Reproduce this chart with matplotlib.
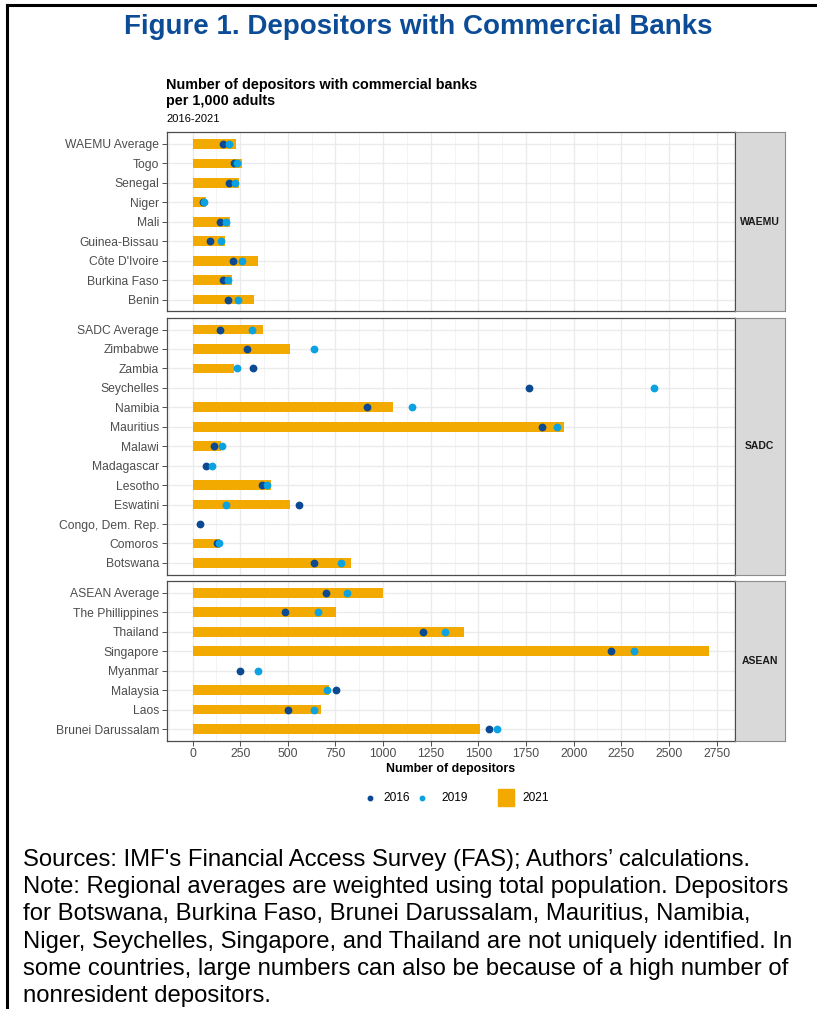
import numpy as np
import matplotlib
matplotlib.use('Agg')
from matplotlib import pyplot as plt
from matplotlib.patches import Rectangle
from matplotlib.lines import Line2D
from matplotlib.ticker import MultipleLocator

plt.rcParams['font.family'] = ['Liberation Sans', 'DejaVu Sans']

nan = np.nan

# depositors per 1,000 adults, rows listed top to bottom
waemu = ['WAEMU Average', 'Togo', 'Senegal', 'Niger', 'Mali', 'Guinea-Bissau',
         "Côte D'Ivoire", 'Burkina Faso', 'Benin']
waemu_2016 = [159, 215, 189, 55, 142, 94, 210, 159, 184]
waemu_2019 = [189, 233, 222, 58, 175, 147, 261, 184, 238]
waemu_2021 = [227, 261, 245, 73, 196, 170, 346, 206, 325]

sadc = ['SADC Average', 'Zimbabwe', 'Zambia', 'Seychelles', 'Namibia', 'Mauritius',
        'Malawi', 'Madagascar', 'Lesotho', 'Eswatini', 'Congo, Dem. Rep.', 'Comoros',
        'Botswana']
sadc_2016 = [145, 287, 318, 1764, 914, 1835, 115, 72, 364, 558, 37, 128, 637]
sadc_2019 = [313, 640, 234, 2423, 1154, 1912, 156, 100, 393, 175, nan, 138, 778]
sadc_2021 = [369, 509, 220, nan, 1052, 1947, 150, nan, 414, 509, nan, 145, 829]

asean = ['ASEAN Average', 'The Phillippines', 'Thailand', 'Singapore', 'Myanmar',
         'Malaysia', 'Laos', 'Brunei Darussalam']
asean_2016 = [698, 484, 1211, 2197, 250, 754, 502, 1556]
asean_2019 = [808, 658, 1327, 2315, 341, 706, 638, 1598]
asean_2021 = [998, 755, 1423, 2711, nan, 715, 673, 1509]

regions = [
    ('WAEMU', waemu, waemu_2016, waemu_2019, waemu_2021),
    ('SADC', sadc, sadc_2016, sadc_2019, sadc_2021),
    ('ASEAN', asean, asean_2016, asean_2019, asean_2021),
]

C16 = '#0B4A92'
C19 = '#0AA2E0'
C21 = '#F2A900'
GRID = '#EBEBEB'
FRAME = '#4D4D4D'
TICK = '#4D4D4D'

W, H = 817, 1009
fig = plt.figure(figsize=(W / 100, H / 100), dpi=100)


def box(x0, y0, x1, y1):
    return [x0 / W, 1 - y1 / H, (x1 - x0) / W, (y1 - y0) / H]


# outer frame (top and left edges)
fig.add_artist(Line2D([7 / W, 1], [1 - 5 / H, 1 - 5 / H], color='black', lw=2.2))
fig.add_artist(Line2D([7 / W, 7 / W], [0, 1 - 5 / H], color='black', lw=2.2))

fig.text(418 / W, 1 - 27 / H, 'Figure 1. Depositors with Commercial Banks',
         ha='center', va='center', fontsize=20, fontweight='bold', color='#0C4C97')

fig.text(166 / W, 1 - 85 / H, 'Number of depositors with commercial banks',
         ha='left', va='center', fontsize=10.4, fontweight='bold')
fig.text(166 / W, 1 - 101 / H, 'per 1,000 adults',
         ha='left', va='center', fontsize=10.4, fontweight='bold')
fig.text(166 / W, 1 - 119 / H, '2016-2021', ha='left', va='center', fontsize=8)

all_vals = np.concatenate([np.array(r[k], dtype=float) for r in regions for k in (2, 3, 4)])
hi = np.nanmax(all_vals)
pad = 0.05 * hi
xlim = (-pad, hi + pad)

left, right, strip_r = 166.7, 735.0, 784.5
unit = 19.45
gap = 6.6
top = 132.3

for i, (name, cats, v16, v19, v21) in enumerate(regions):
    n = len(cats)
    h = (n + 0.2) * unit
    ax = fig.add_axes(box(left, top, right, top + h))
    sx = fig.add_axes(box(right, top, strip_r, top + h))

    ypos = np.arange(n, 0, -1)
    v21 = np.array(v21, dtype=float)
    has = ~np.isnan(v21)
    ax.barh(ypos[has], v21[has], height=0.5, color=C21, zorder=2)
    ax.plot(v16, ypos, 'o', ms=4.6, color=C16, ls='none', zorder=3)
    ax.plot(v19, ypos, 'o', ms=4.6, color=C19, ls='none', zorder=4)

    ax.set_xlim(*xlim)
    ax.set_ylim(0.4, n + 0.6)
    ax.set_yticks(ypos)
    ax.set_yticklabels(cats)
    ax.xaxis.set_major_locator(MultipleLocator(250))
    ax.xaxis.set_minor_locator(MultipleLocator(125))
    ax.grid(which='major', color=GRID, lw=1.0)
    ax.grid(which='minor', axis='x', color='#F3F3F3', lw=0.6)
    ax.set_axisbelow(True)
    ax.tick_params(which='minor', length=0)
    ax.tick_params(axis='both', which='major', length=3.5, width=0.6, color='#333333',
                   labelcolor=TICK, labelsize=8.7, pad=2)
    for sp in ax.spines.values():
        sp.set_color(FRAME)
        sp.set_linewidth(0.9)
    if i < len(regions) - 1:
        ax.tick_params(axis='x', length=0, labelbottom=False)
    else:
        ax.set_xlabel('Number of depositors', fontsize=8.9, fontweight='bold', labelpad=2)

    sx.set_facecolor('#D9D9D9')
    sx.set_xticks([])
    sx.set_yticks([])
    for sp in sx.spines.values():
        sp.set_color('#8C8C8C')
        sp.set_linewidth(0.8)
    sx.spines['left'].set_color(FRAME)
    sx.text(0.5, 0.5, name, transform=sx.transAxes, ha='center', va='center',
            fontsize=7.5, fontweight='bold', color='#1A1A1A')

    top += h + gap

# legend keys
ly = 1 - 798 / H
fig.add_artist(Line2D([370 / W], [ly], marker='o', ms=3.2, color=C16, ls='none'))
fig.text(383 / W, ly, '2016', ha='left', va='center', fontsize=8.6, color='black')
fig.add_artist(Line2D([422 / W], [ly], marker='o', ms=3.2, color=C19, ls='none'))
fig.text(441 / W, ly, '2019', ha='left', va='center', fontsize=8.6, color='black')
fig.add_artist(Rectangle((498 / W, 1 - 806 / H), 16 / W, 17 / H, color=C21))
fig.text(522 / W, ly, '2021', ha='left', va='center', fontsize=8.6, color='black')

notes = [
    "Sources: IMF's Financial Access Survey (FAS); Authors\u2019 calculations.",
    'Note: Regional averages are weighted using total population. Depositors',
    'for Botswana, Burkina Faso, Brunei Darussalam, Mauritius, Namibia,',
    'Niger, Seychelles, Singapore, and Thailand are not uniquely identified. In',
    'some countries, large numbers can also be because of a high number of',
    'nonresident depositors.',
]
for k, line in enumerate(notes):
    fig.text(23 / W, 1 - (860 + 27.2 * k) / H, line, ha='left', va='center',
             fontsize=17.2, color='black')

fig.savefig('out.png', dpi=100)
